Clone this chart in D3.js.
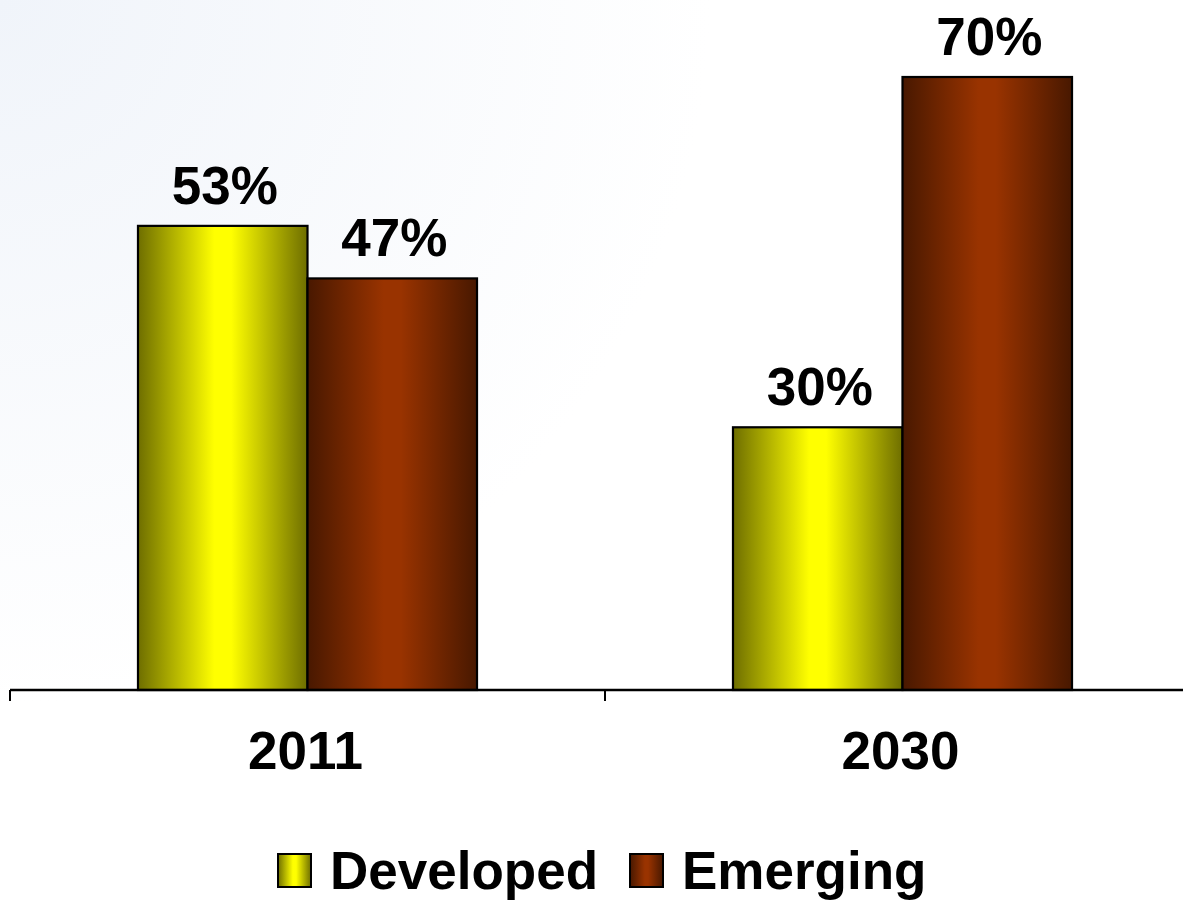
<!DOCTYPE html>
<html><head><meta charset="utf-8">
<script src="https://cdn.jsdelivr.net/npm/d3@7"></script>
<style>html,body{margin:0;padding:0;background:#fff;}svg{display:block;}</style>
</head><body>
<script>
const categories = ["2011", "2030"];
const seriesNames = ["Developed", "Emerging"];
const developed = [53, 30];
const emerging = [47, 70];
const valueLabels = [["53%", "30%"], ["47%", "70%"]];

const W = 1183, H = 903;
const svg = d3.select("body").append("svg").attr("width", W).attr("height", H);
const defs = svg.append("defs");

const bg = defs.append("radialGradient").attr("id","bg").attr("cx","0").attr("cy","0").attr("r","0.6")
  .attr("gradientTransform","scale(1,1.3)");
bg.append("stop").attr("offset","0").attr("stop-color","#f0f4fa");
bg.append("stop").attr("offset","1").attr("stop-color","#ffffff");
svg.append("rect").attr("width",W).attr("height",H).attr("fill","url(#bg)");

function hgrad(id, edge, mid){
  const g = defs.append("linearGradient").attr("id",id).attr("x1","0").attr("x2","1").attr("y1","0").attr("y2","0");
  g.append("stop").attr("offset","0").attr("stop-color",edge);
  g.append("stop").attr("offset","0.45").attr("stop-color",mid);
  g.append("stop").attr("offset","0.55").attr("stop-color",mid);
  g.append("stop").attr("offset","1").attr("stop-color",edge);
}
hgrad("gDev", "#6e6e00", "#ffff00");
hgrad("gEme", "#481800", "#993300");
const fills = ["url(#gDev)", "url(#gEme)"];

const series = [developed, emerging];
const x0 = d3.scaleBand().domain(categories).range([10, 1200]).padding(0);
const x1 = d3.scaleBand().domain(seriesNames).range([0, x0.bandwidth()]).paddingInner(0).paddingOuter(0.755);
const y = d3.scaleLinear().domain([0, 70]).range([690, 77]);

const font = "'Liberation Sans', Arial, sans-serif";

// bars
seriesNames.forEach((s, si) => {
  categories.forEach((c, ci) => {
    const v = series[si][ci];
    svg.append("rect")
      .attr("x", x0(c) + x1(s)).attr("y", y(v))
      .attr("width", x1.bandwidth()).attr("height", y(0) - y(v))
      .attr("fill", fills[si]).attr("stroke", "#000").attr("stroke-width", 2.2);
    svg.append("text")
      .attr("x", x0(c) + x1(s) + x1.bandwidth()/2 + 2).attr("y", y(v) - 22)
      .attr("text-anchor","middle").attr("font-family",font).attr("font-weight","bold")
      .attr("font-size", 53).attr("fill","#000").text(valueLabels[si][ci]);
  });
});

// axis
const axisY = y(0);
svg.append("line").attr("x1", x0.range()[0]).attr("x2", x0.range()[1]).attr("y1", axisY).attr("y2", axisY)
  .attr("stroke","#000").attr("stroke-width",2.5);
const tickXs = categories.map(c => x0(c)).concat([x0.range()[1]]);
svg.selectAll(".tick").data(tickXs).enter().append("line")
  .attr("x1", d => d).attr("x2", d => d).attr("y1", axisY).attr("y2", axisY + 11)
  .attr("stroke","#000").attr("stroke-width",2);
svg.selectAll(".cat").data(categories).enter().append("text")
  .attr("x", d => x0(d) + x0.bandwidth()/2 - 2).attr("y", 769)
  .attr("text-anchor","middle").attr("font-family",font).attr("font-weight","bold")
  .attr("font-size", 53).attr("fill","#000").text(d => d);

// legend
const legendItems = [{name: seriesNames[0], x: 278, fill: fills[0]}, {name: seriesNames[1], x: 630, fill: fills[1]}];
legendItems.forEach(it => {
  svg.append("rect").attr("x", it.x).attr("y", 854).attr("width", 33).attr("height", 33)
    .attr("fill", it.fill).attr("stroke","#000").attr("stroke-width",2);
  svg.append("text").attr("x", it.x + 52).attr("y", 889)
    .attr("font-family",font).attr("font-weight","bold").attr("font-size",53).attr("fill","#000").text(it.name);
});
</script>
</body></html>
